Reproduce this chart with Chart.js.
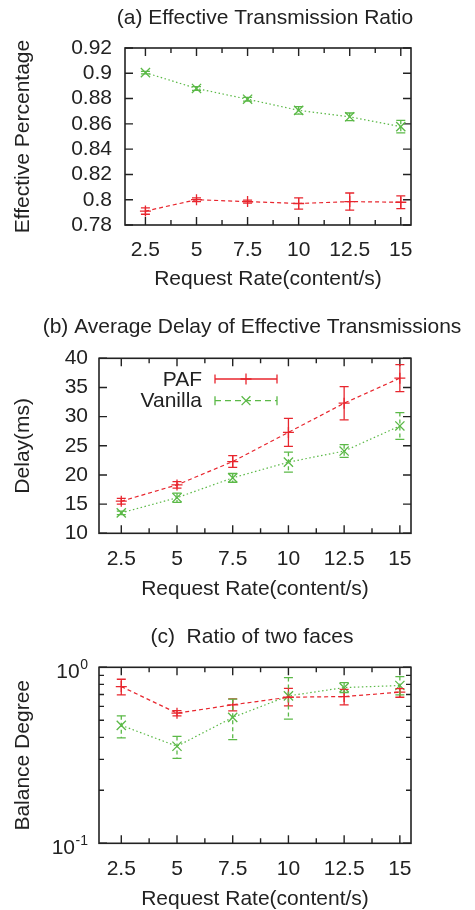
<!DOCTYPE html>
<html>
<head>
<meta charset="utf-8">
<script src="https://cdn.jsdelivr.net/npm/chart.js@4.4.0/dist/chart.umd.min.js"></script>
<style>
  html, body { margin: 0; padding: 0; background: #fff; }
  #wrap { position: relative; width: 475px; height: 910px; }
  canvas { position: absolute; left: 0; }
</style>
</head>
<body>
<div id="wrap">
  <canvas id="chart-a" width="475" height="300" style="top:0"></canvas>
  <canvas id="chart-b" width="475" height="305" style="top:300px"></canvas>
  <canvas id="chart-c" width="475" height="305" style="top:605px"></canvas>
</div>
<script>
// Shared x axis (request rate)
const rates = [2.5, 5, 7.5, 10, 12.5, 15];
const rateTicks = [2.5, 3.75, 5, 6.25, 7.5, 8.75, 10, 11.25, 12.5, 13.75, 15];

// (a) effective transmission ratio
const ratioPaf = [0.791, 0.800, 0.7985, 0.797, 0.7985, 0.798];
const ratioPafErr = [0.0025, 0.0015, 0.0012, 0.0045, 0.0068, 0.005];
const ratioVanilla = [0.9005, 0.888, 0.8795, 0.8707, 0.8656, 0.8578];
const ratioVanillaErr = [0.001, 0.0015, 0.0015, 0.003, 0.003, 0.005];
const ratioTicks = [0.78, 0.8, 0.82, 0.84, 0.86, 0.88, 0.9, 0.92];

// (b) average delay (ms)
const delayPaf = [15.5, 18.3, 22.3, 27.3, 32.3, 36.6];
const delayPafErr = [0.5, 0.55, 1.0, 2.4, 2.85, 2.3];
const delayVanilla = [13.5, 16.1, 19.5, 22.2, 24.1, 28.4];
const delayVanillaErr = [0.3, 0.8, 0.75, 1.7, 1.1, 2.3];
const delayTicks = [10, 15, 20, 25, 30, 35, 40];

// (c) ratio of two faces (log scale, asymmetric errors)
const balancePaf = [0.777, 0.549, 0.612, 0.676, 0.682, 0.722];
const balancePafLow = [0.697, 0.53, 0.566, 0.604, 0.612, 0.676];
const balancePafHigh = [0.855, 0.567, 0.662, 0.76, 0.75, 0.757];
const balanceVanilla = [0.468, 0.356, 0.519, 0.688, 0.767, 0.788];
const balanceVanillaLow = [0.397, 0.304, 0.388, 0.508, 0.719, 0.697];
const balanceVanillaHigh = [0.53, 0.405, 0.659, 0.874, 0.819, 0.886];
const balanceTicks = [0.1, 0.2, 0.3, 0.4, 0.5, 0.6, 0.7, 0.8, 0.9, 1];

const RED = '#e8262e';
const GREEN = '#5bb947';
const INK = '#222222';
const FONT = '"Liberation Sans", Arial, sans-serif';

function isPow10(v) {
    const l = Math.log10(v);
    return Math.abs(l - Math.round(l)) < 1e-9;
}

// Inward ticks on all four sides plus the box, gnuplot style
const framePlugin = {
    id: 'frame',
    beforeDatasetsDraw(chart) {
        const { ctx, chartArea: a, scales: { x, y } } = chart;
        const isLog = y.type === 'logarithmic';
        ctx.save();
        ctx.strokeStyle = INK;
        ctx.lineWidth = 1.4;
        ctx.beginPath();
        x.ticks.forEach(t => {
            const px = x.getPixelForValue(t.value);
            const len = t.label ? 8 : 5;
            ctx.moveTo(px, a.bottom); ctx.lineTo(px, a.bottom - len);
            ctx.moveTo(px, a.top); ctx.lineTo(px, a.top + len);
        });
        y.ticks.forEach(t => {
            const py = y.getPixelForValue(t.value);
            const len = isLog && !isPow10(t.value) ? 5 : 8;
            ctx.moveTo(a.left, py); ctx.lineTo(a.left + len, py);
            ctx.moveTo(a.right, py); ctx.lineTo(a.right - len, py);
        });
        ctx.stroke();
        ctx.lineWidth = 1.6;
        ctx.strokeRect(a.left, a.top, a.right - a.left, a.bottom - a.top);
        ctx.restore();
    }
};

// Vertical error bars with caps
const errorBarPlugin = {
    id: 'errorBars',
    afterDatasetsDraw(chart) {
        const { ctx, scales: { x, y } } = chart;
        chart.data.datasets.forEach(ds => {
            ctx.save();
            ctx.strokeStyle = ds.borderColor;
            ctx.lineWidth = 1.3;
            ds.data.forEach((pt, i) => {
                const px = x.getPixelForValue(pt.x);
                const top = y.getPixelForValue(ds.high[i]);
                const bot = y.getPixelForValue(ds.low[i]);
                ctx.setLineDash(ds.barDash);
                ctx.beginPath();
                ctx.moveTo(px, top); ctx.lineTo(px, bot);
                ctx.stroke();
                ctx.setLineDash([]);
                ctx.beginPath();
                ctx.moveTo(px - 4.5, top); ctx.lineTo(px + 4.5, top);
                ctx.moveTo(px - 4.5, bot); ctx.lineTo(px + 4.5, bot);
                ctx.stroke();
            });
            ctx.restore();
        });
    }
};

// Panel title, centred over the plot
const panelTitlePlugin = {
    id: 'panelTitle',
    afterDraw(chart, args, opts) {
        const { ctx, chartArea: a } = chart;
        ctx.save();
        ctx.font = '21px ' + FONT;
        ctx.fillStyle = INK;
        ctx.textAlign = 'center';
        ctx.textBaseline = 'alphabetic';
        ctx.fillText(opts.text, (a.left + a.right) / 2 - 3, opts.baseline);
        ctx.restore();
    }
};

// Legend in panel (b): errorbar sample lines
const legendPlugin = {
    id: 'sampleLegend',
    afterDraw(chart) {
        const { ctx } = chart;
        const rows = [
            { ds: chart.data.datasets[0], y: 79, base: 85.7 },
            { ds: chart.data.datasets[1], y: 100.7, base: 106.7 }
        ];
        ctx.save();
        rows.forEach(r => {
            ctx.font = '21px ' + FONT;
            ctx.fillStyle = INK;
            ctx.textAlign = 'right';
            ctx.fillText(r.ds.label, 202, r.base);
            ctx.strokeStyle = r.ds.borderColor;
            ctx.lineWidth = 1.3;
            ctx.setLineDash(r.ds.barDash.length ? [6, 4] : []);
            ctx.beginPath();
            ctx.moveTo(215, r.y); ctx.lineTo(277, r.y);
            ctx.stroke();
            ctx.setLineDash([]);
            ctx.beginPath();
            ctx.moveTo(215, r.y - 4.5); ctx.lineTo(215, r.y + 4.5);
            ctx.moveTo(277, r.y - 4.5); ctx.lineTo(277, r.y + 4.5);
            const m = 5.5;
            if (r.ds.pointStyle === 'cross') {
                ctx.moveTo(246 - m, r.y); ctx.lineTo(246 + m, r.y);
                ctx.moveTo(246, r.y - m); ctx.lineTo(246, r.y + m);
            } else {
                const d = m * 0.8;
                ctx.moveTo(246 - d, r.y - d); ctx.lineTo(246 + d, r.y + d);
                ctx.moveTo(246 - d, r.y + d); ctx.lineTo(246 + d, r.y - d);
            }
            ctx.stroke();
        });
        ctx.restore();
    }
};

// 10^n labels for the log axis
const logLabelPlugin = {
    id: 'logLabels',
    afterDraw(chart) {
        const { ctx, scales: { y } } = chart;
        ctx.save();
        ctx.fillStyle = INK;
        ctx.textAlign = 'right';
        ctx.textBaseline = 'alphabetic';
        y.ticks.filter(t => isPow10(t.value)).forEach(t => {
            const py = y.getPixelForValue(t.value);
            const exp = String(Math.round(Math.log10(t.value)));
            ctx.font = '14px ' + FONT;
            const w = ctx.measureText(exp).width;
            ctx.fillText(exp, 88, py + 1.3);
            ctx.font = '21px ' + FONT;
            ctx.fillText('10', 88 - w - 0.5, py + 10.5);
        });
        ctx.restore();
    }
};

function points(values) {
    return values.map((v, i) => ({ x: rates[i], y: v }));
}

function buildPanel(id, p) {
    const datasets = [
        {
            label: 'PAF', data: points(p.paf), low: p.pafLow, high: p.pafHigh,
            borderColor: RED, borderWidth: 1.2, borderDash: [4, 3],
            pointStyle: 'cross', pointRadius: 5.5, pointBorderColor: RED,
            pointBorderWidth: 1.3, barDash: [], fill: false
        },
        {
            label: 'Vanilla', data: points(p.vanilla), low: p.vanillaLow, high: p.vanillaHigh,
            borderColor: GREEN, borderWidth: 1.2, borderDash: [1.5, 2.5],
            pointStyle: 'crossRot', pointRadius: 6.5, pointBorderColor: GREEN,
            pointBorderWidth: 1.3, barDash: [4, 3], fill: false
        }
    ];
    const yScale = {
        type: p.logY ? 'logarithmic' : 'linear',
        min: p.yTicks[0],
        max: p.yTicks[p.yTicks.length - 1],
        afterBuildTicks: s => { s.ticks = p.yTicks.map(v => ({ value: v })); },
        afterFit: s => { s.width = p.yWidth; s.paddingTop = 0; s.paddingBottom = 0; },
        grid: { display: false, drawTicks: false },
        border: { display: false },
        ticks: {
            autoSkip: false,
            padding: p.yPad,
            color: INK,
            font: { family: FONT, size: 21 },
            callback: v => p.logY ? '' : String(+v.toFixed(2))
        },
        title: {
            display: true, text: p.yTitle, color: INK,
            font: { family: FONT, size: 21, lineHeight: 1 },
            padding: { top: 13, bottom: 0 }
        }
    };
    return new Chart(document.getElementById(id), {
        type: 'line',
        data: { datasets },
        options: {
            responsive: false,
            animation: false,
            layout: { padding: { top: p.top, left: 0, right: 64, bottom: 0 } },
            plugins: {
                legend: { display: false },
                tooltip: { enabled: false },
                panelTitle: { text: p.title, baseline: p.titleBase }
            },
            scales: {
                x: {
                    type: 'linear', min: 1.5, max: 15.5,
                    afterBuildTicks: s => { s.ticks = rateTicks.map(v => ({ value: v })); },
                    afterFit: s => { s.height = p.xHeight; s.paddingLeft = 0; s.paddingRight = 0; },
                    grid: { display: false, drawTicks: false },
                    border: { display: false },
                    ticks: {
                        autoSkip: false, maxRotation: 0, padding: 13,
                        color: INK,
                        font: { family: FONT, size: 21 },
                        callback: v => Math.abs(v / 2.5 - Math.round(v / 2.5)) < 1e-6 ? String(v) : ''
                    },
                    title: {
                        display: true, text: 'Request Rate(content/s)', color: INK,
                        font: { family: FONT, size: 21, lineHeight: 1 },
                        padding: { top: 0, bottom: p.xTitlePad }
                    }
                },
                y: yScale
            }
        },
        plugins: [framePlugin, errorBarPlugin, panelTitlePlugin].concat(p.extra || [])
    });
}

buildPanel('chart-a', {
    title: '(a) Effective Transmission Ratio', titleBase: 24,
    top: 48, xHeight: 75, xTitlePad: 10.3, yWidth: 125, yPad: 13,
    yTitle: 'Effective Percentage', yTicks: ratioTicks,
    paf: ratioPaf,
    pafLow: ratioPaf.map((v, i) => v - ratioPafErr[i]),
    pafHigh: ratioPaf.map((v, i) => v + ratioPafErr[i]),
    vanilla: ratioVanilla,
    vanillaLow: ratioVanilla.map((v, i) => v - ratioVanillaErr[i]),
    vanillaHigh: ratioVanilla.map((v, i) => v + ratioVanillaErr[i])
});

buildPanel('chart-b', {
    title: '(b) Average Delay of Effective Transmissions', titleBase: 33.3,
    top: 58.3, xHeight: 71.7, xTitlePad: 5.5, yWidth: 99, yPad: 11,
    yTitle: 'Delay(ms)', yTicks: delayTicks,
    paf: delayPaf,
    pafLow: delayPaf.map((v, i) => v - delayPafErr[i]),
    pafHigh: delayPaf.map((v, i) => v + delayPafErr[i]),
    vanilla: delayVanilla,
    vanillaLow: delayVanilla.map((v, i) => v - delayVanillaErr[i]),
    vanillaHigh: delayVanilla.map((v, i) => v + delayVanillaErr[i]),
    extra: [legendPlugin]
});

buildPanel('chart-c', {
    title: '(c)  Ratio of two faces', titleBase: 37.7,
    top: 62.3, xHeight: 66.7, xTitlePad: 0.5, yWidth: 99, yPad: 11,
    yTitle: 'Balance Degree', yTicks: balanceTicks, logY: true,
    paf: balancePaf, pafLow: balancePafLow, pafHigh: balancePafHigh,
    vanilla: balanceVanilla, vanillaLow: balanceVanillaLow, vanillaHigh: balanceVanillaHigh,
    extra: [logLabelPlugin]
});
</script>
</body>
</html>
